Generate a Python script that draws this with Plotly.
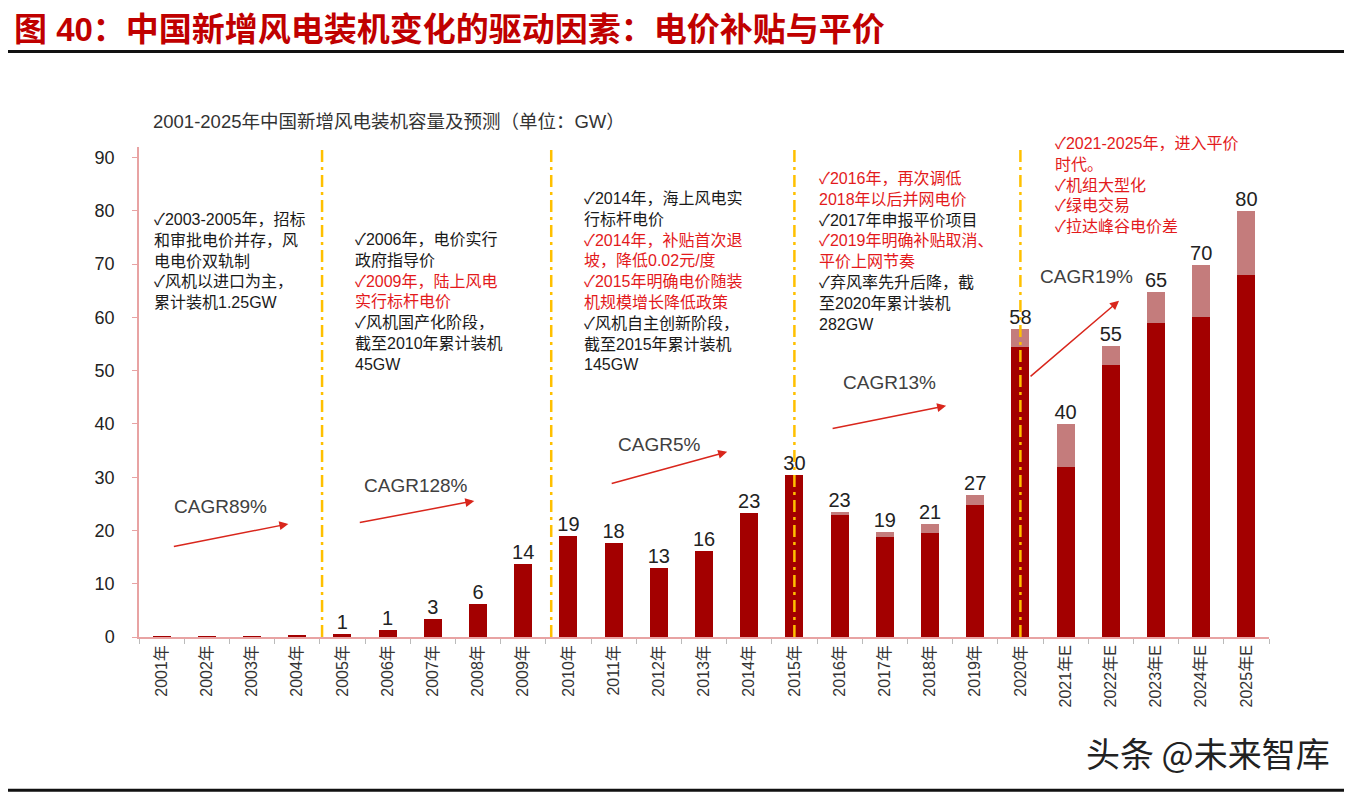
import plotly.graph_objects as go

# ---------------- data ----------------
years = ["2001年", "2002年", "2003年", "2004年", "2005年", "2006年", "2007年", "2008年",
         "2009年", "2010年", "2011年", "2012年", "2013年", "2014年", "2015年", "2016年",
         "2017年", "2018年", "2019年", "2020年", "2021年E", "2022年E", "2023年E",
         "2024年E", "2025年E"]
base_gw = [0.04, 0.07, 0.1, 0.2, 0.5, 1.3, 3.3, 6.2, 13.8, 18.9, 17.6, 13.0, 16.1, 23.2,
           30.5, 23.0, 18.8, 19.5, 24.8, 54.5, 32.0, 51.0, 59.0, 60.0, 68.0]
extra_gw = [0, 0, 0, 0, 0, 0, 0, 0, 0, 0, 0, 0, 0, 0,
            0, 0.4, 0.9, 1.7, 1.9, 3.4, 8.0, 3.6, 5.8, 9.8, 12.0]
bar_labels = ["", "", "", "", "1", "1", "3", "6", "14", "19", "18", "13", "16", "23",
              "30", "23", "19", "21", "27", "58", "40", "55", "65", "70", "80"]
y_ticks = [0, 10, 20, 30, 40, 50, 60, 70, 80, 90]

cagr_texts = ["CAGR89%", "CAGR128%", "CAGR5%", "CAGR13%", "CAGR19%"]

title_text = "图 40：中国新增风电装机变化的驱动因素：电价补贴与平价"
subtitle_text = "2001-2025年中国新增风电装机容量及预测（单位：GW）"
watermark_text = "头条 @未来智库"

RED = "#E31A1C"
BLK = "#1a1a1a"
blocks = [
    [("✓2003-2005年，招标", BLK), ("和审批电价并存，风", BLK), ("电电价双轨制", BLK),
     ("✓风机以进口为主，", BLK), ("累计装机1.25GW", BLK)],
    [("✓2006年，电价实行", BLK), ("政府指导价", BLK), ("✓2009年，陆上风电", RED),
     ("实行标杆电价", RED), ("✓风机国产化阶段，", BLK), ("截至2010年累计装机", BLK),
     ("45GW", BLK)],
    [("✓2014年，海上风电实", BLK), ("行标杆电价", BLK), ("✓2014年，补贴首次退", RED),
     ("坡，降低0.02元/度", RED), ("✓2015年明确电价随装", RED), ("机规模增长降低政策", RED),
     ("✓风机自主创新阶段，", BLK), ("截至2015年累计装机", BLK), ("145GW", BLK)],
    [("✓2016年，再次调低", RED), ("2018年以后并网电价", RED), ("✓2017年申报平价项目", BLK),
     ("✓2019年明确补贴取消、", RED), ("平价上网节奏", RED), ("✓弃风率先升后降，截", BLK),
     ("至2020年累计装机", BLK), ("282GW", BLK)],
    [("✓2021-2025年，进入平价", RED), ("时代。", RED), ("✓机组大型化", RED),
     ("✓绿电交易", RED), ("✓拉达峰谷电价差", RED)],
]

# ---------------- layout geometry (page pixels; page has an 8px body margin) ----------------
OFF = 8
W, H = 1352 - OFF, 794 - OFF
L, R, T, B = 138.6, 1269.0, 147.4, 637.0
MIXED = "Liberation Sans, Noto Sans CJK SC"


def px(x):
    return (x - L) / (R - L)


def py(y):
    return (B - y) / (B - T)


totals = [a + b for a, b in zip(base_gw, extra_gw)]

fig = go.Figure()
fig.add_trace(go.Bar(x=years, y=base_gw, marker=dict(color="#A30000", line=dict(width=0)),
                     width=0.4, showlegend=False, hoverinfo="skip"))
fig.add_trace(go.Bar(x=years, y=extra_gw, marker=dict(color="#C47C7C", line=dict(width=0)),
                     width=0.4, showlegend=False, hoverinfo="skip"))
fig.add_trace(go.Scatter(x=years, y=totals, mode="text", text=bar_labels,
                         textposition="top center",
                         textfont=dict(size=20, color="#222222",
                                       family="Liberation Sans, Arial, sans-serif"),
                         cliponaxis=False, showlegend=False, hoverinfo="skip"))

shapes = []
for xv in [3.55, 8.62, 14.0, 19.0]:
    shapes.append(dict(type="line", xref="x", yref="y", x0=xv, x1=xv, y0=0, y1=92,
                       line=dict(color="#FFC000", width=2.5, dash="12px,5px,3px,5px"),
                       layer="above"))
shapes.append(dict(type="line", xref="paper", yref="paper", x0=px(5), x1=px(1352),
                   y0=py(52), y1=py(52), line=dict(color="#111111", width=3)))
shapes.append(dict(type="line", xref="paper", yref="paper", x0=px(0), x1=px(1352),
                   y0=py(790), y1=py(790), line=dict(color="#111111", width=3)))

ann = []
ann.append(dict(text="<b>" + title_text + "</b>", xref="paper", yref="paper",
                x=px(12), y=py(30), xanchor="left", yanchor="middle", showarrow=False,
                font=dict(size=33, color="#C00000", family=MIXED)))
ann.append(dict(text=subtitle_text, xref="paper", yref="paper",
                x=px(151), y=py(122), xanchor="left", yanchor="middle", showarrow=False,
                font=dict(size=18.5, color="#333333", family=MIXED)))
ann.append(dict(text=watermark_text, xref="paper", yref="paper",
                x=px(1084), y=py(752), xanchor="left", yanchor="middle", showarrow=False,
                font=dict(size=34, color="#222222", family="Noto Sans CJK SC")))

# text blocks: (left px, first line centre px, reference line spacing)
block_pos = [(152, 222, 19.8), (353, 242, 20.2), (582, 200, 20.4), (817, 182, 20.0),
             (1053, 145, 20.0)]
for blk, (bx, by, sp) in zip(blocks, block_pos):
    html = "<br>".join('<span style="color:%s">%s</span>' % (col, txt) for txt, col in blk)
    yc = by + (len(blk) - 1) * sp / 2.0
    ann.append(dict(text=html, xref="paper", yref="paper", x=px(bx), y=py(yc),
                    xanchor="left", yanchor="middle", align="left", showarrow=False,
                    font=dict(size=16, color=BLK, family=MIXED)))

cagr_pos = [(220, 507), (416, 486), (659, 445), (889, 383), (1086, 277)]
for t, (cx, cy) in zip(cagr_texts, cagr_pos):
    ann.append(dict(text=t, xref="paper", yref="paper", x=px(cx), y=py(cy),
                    xanchor="center", yanchor="middle", showarrow=False,
                    font=dict(size=19, color="#404040",
                              family="Liberation Sans, Arial, sans-serif")))

arrows = [((172, 547), (288, 524)), ((358, 523), (474, 501)), ((610, 484), (727, 452)),
          ((831, 429), (946, 406)), ((1029, 378), (1119, 301))]
for (tx, ty), (hx, hy) in arrows:
    ann.append(dict(text="", xref="paper", yref="paper", x=px(hx), y=py(hy),
                    axref="pixel", ayref="pixel", ax=tx - hx, ay=ty - hy,
                    showarrow=True, arrowhead=2, arrowsize=1.2, arrowwidth=1.5,
                    arrowcolor="#D9261C"))

fig.update_layout(
    width=W, height=H,
    margin=dict(l=L - OFF, r=W - (R - OFF), t=T - OFF, b=H - (B - OFF), autoexpand=False),
    barmode="stack",
    paper_bgcolor="white", plot_bgcolor="white",
    shapes=shapes, annotations=ann,
    xaxis=dict(type="category", range=[-0.5, 24.5], tickangle=-90, showgrid=False,
               showline=True, linecolor="#E8A3A3", linewidth=1.5,
               ticks="outside", tickson="boundaries", ticklen=5, tickcolor="#BBBBBB",
               tickfont=dict(size=16, color="#333333", family=MIXED)),
    yaxis=dict(range=[0, 92], tickvals=y_ticks, showgrid=False, zeroline=False,
               showline=True, linecolor="#E8A3A3", linewidth=1.5,
               ticks="outside", ticklen=5, tickcolor="#E8A3A3", ticklabelstandoff=14,
               tickfont=dict(size=18, color="#222222",
                             family="Liberation Sans, Arial, sans-serif")),
)

fig.write_html("out.html")
